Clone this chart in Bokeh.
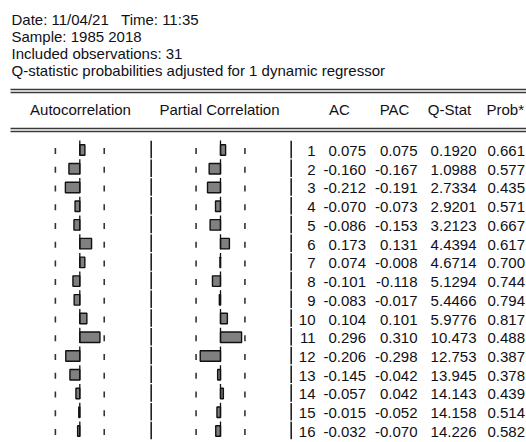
from bokeh.plotting import figure
from bokeh.models import Range1d, ColumnDataSource
from bokeh.core.properties import value
from bokeh.transform import dodge
from bokeh.embed import file_html
from bokeh.resources import INLINE
import math

# ---------------- data ----------------
header_lines = [
    "Date: 11/04/21\u00a0\u00a0 Time: 11:35",
    "Sample: 1985 2018",
    "Included observations: 31",
    "Q-statistic probabilities adjusted for 1 dynamic regressor",
]
n_obs = 31
lags = list(range(1, 17))
ac = [0.075, -0.160, -0.212, -0.070, -0.086, 0.173, 0.074, -0.101,
      -0.083, 0.104, 0.296, -0.206, -0.145, -0.057, -0.015, -0.032]
pac = [0.075, -0.167, -0.191, -0.073, -0.153, 0.131, -0.008, -0.118,
       -0.017, 0.101, 0.310, -0.298, -0.042, 0.042, -0.052, -0.070]
qstat = [0.1920, 1.0988, 2.7334, 2.9201, 3.2123, 4.4394, 4.6714, 5.1294,
         5.4466, 5.9776, 10.473, 12.753, 13.945, 14.143, 14.158, 14.226]
prob = [0.661, 0.577, 0.435, 0.571, 0.667, 0.617, 0.700, 0.744,
        0.794, 0.817, 0.488, 0.387, 0.378, 0.439, 0.514, 0.582]
col_titles = ["Autocorrelation", "Partial Correlation", "AC", "PAC", "Q-Stat", "Prob*"]

bound = 2.0 / math.sqrt(n_obs)

# ---------------- layout (pixels in frame) ----------------
W, H = 526, 442
ROW0 = 150.5      # y of lag 1 row centre
ROWH = 18.73      # px per row
SCALE = 68.0      # px per unit of correlation
AC_C = 79.3       # x of AC zero line
PAC_C = 220.0     # x of PAC zero line

FONT = value("Liberation Sans")
FS = "15px"
TXT = "#101018"
LINE = "#3a3a3a"

p = figure(width=W, height=H, x_range=Range1d(0, W), y_range=Range1d(H, 0),
           output_backend="svg", toolbar_location=None, min_border=0,
           x_axis_type=None, y_axis_type=None)
p.grid.visible = False
p.outline_line_color = None
p.background_fill_color = "white"

p.extra_y_ranges = {"lag": Range1d(1 + (H - ROW0) / ROWH, 1 - ROW0 / ROWH)}
p.extra_x_ranges = {
    "ac": Range1d(-AC_C / SCALE, (W - AC_C) / SCALE),
    "pac": Range1d(-PAC_C / SCALE, (W - PAC_C) / SCALE),
}

# header text lines
hsrc = ColumnDataSource(dict(y=[19, 36, 53, 70], t=header_lines))
p.text(x=11, y="y", text="t", source=hsrc, text_font=FONT, text_font_size=FS,
       text_color=TXT, text_align="left", text_baseline="middle")

# double rules
for yy in (89, 92, 128, 131):
    p.segment(x0=10, y0=yy, x1=W, y1=yy, line_color=LINE, line_width=1.6)

# column titles
tsrc = ColumnDataSource(dict(x=[80, 219, 339, 394, 449, 486], t=col_titles,
                             a=["center", "center", "center", "center", "center", "left"]))
p.text(x="x", y=109, text="t", text_align="a", source=tsrc, text_font=FONT,
       text_font_size=FS, text_color=TXT, text_baseline="middle")

src = ColumnDataSource(dict(
    lag=lags, ac=ac, pac=pac, zero=[0.0] * len(lags),
    lo=[-bound] * len(lags), hi=[bound] * len(lags),
    lag_s=[str(l) for l in lags],
    ac_s=[f"{v:.3f}" for v in ac],
    pac_s=[f"{v:.3f}" for v in pac],
    q_s=[f"{v:.4f}" if v < 10 else f"{v:.3f}" for v in qstat],
    p_s=[f"{v:.3f}" for v in prob],
))

ybar = dodge("lag", -1.0 / ROWH)
ycl = dodge("lag", -3.0 / ROWH)

for rng, col in (("ac", "ac"), ("pac", "pac")):
    # confidence bound ticks
    for b in ("lo", "hi"):
        p.rect(x=b, y="lag", width=1.6, height=6, width_units="screen",
               height_units="screen", source=src, x_range_name=rng,
               y_range_name="lag", fill_color="#333333", line_color=None)
    # bars
    p.hbar(y=ybar, left="zero", right=col, height=10.5 / ROWH, source=src,
           x_range_name=rng, y_range_name="lag", fill_color="#808080",
           line_color="#111111", line_width=1.4)
    # zero line pieces
    p.rect(x="zero", y=ycl, width=1.3, height=15, width_units="screen",
           height_units="screen", source=src, x_range_name=rng,
           y_range_name="lag", fill_color="#111111", line_color=None)

# separator segments
for sx in (150.7, 290.7):
    p.rect(x=sx, y=dodge("lag", -1.5 / ROWH), width=1.6, height=17.5,
           width_units="screen", height_units="screen", source=src,
           y_range_name="lag", fill_color="#222222", line_color=None)

# numeric columns
for xx, fld, al in ((315, "lag_s", "right"), (365.5, "ac_s", "right"),
                    (417, "pac_s", "right"), (476, "q_s", "right"),
                    (524.5, "p_s", "right")):
    p.text(x=xx, y="lag", text=fld, source=src, y_range_name="lag",
           text_font=FONT, text_font_size=FS, text_color=TXT,
           text_align=al, text_baseline="middle")

open("out.html", "w").write(file_html(p, INLINE))
